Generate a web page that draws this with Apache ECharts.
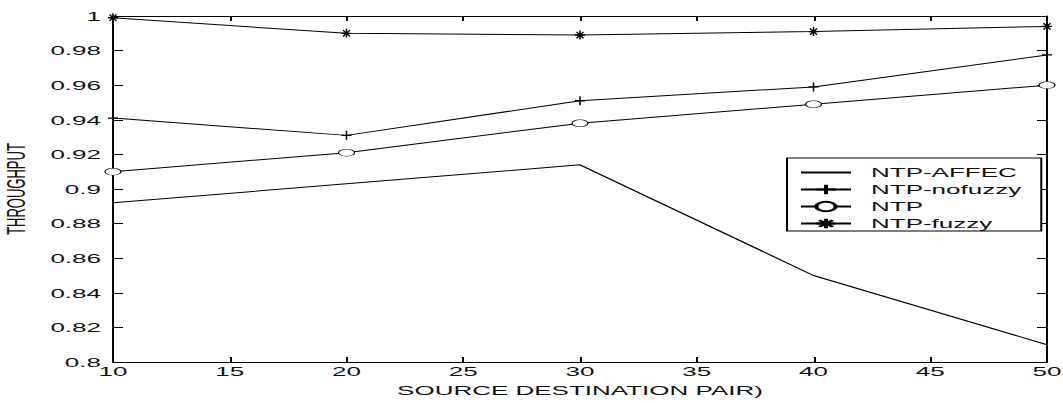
<!DOCTYPE html>
<html>
<head>
<meta charset="utf-8">
<script src="https://cdn.jsdelivr.net/npm/echarts@6/dist/echarts.min.js"></script>
<style>
html,body{margin:0;padding:0;background:#fff;overflow:hidden;}
#wrap{width:1063px;height:403px;overflow:hidden;}
#chart{width:531.5px;height:403px;transform:scale(2,1);transform-origin:0 0;}
</style>
</head>
<body>
<div id="wrap"><div id="chart"></div></div>
<script>
const pairs = [10, 20, 30, 40, 50];
const ntpAffec = [0.892, 0.903, 0.914, 0.850, 0.810];
const ntpNofuzzy = [0.941, 0.931, 0.951, 0.959, 0.9775];
const ntp = [0.910, 0.921, 0.938, 0.949, 0.960];
const ntpFuzzy = [0.999, 0.990, 0.989, 0.991, 0.994];
const seriesNames = ['NTP-AFFEC', 'NTP-nofuzzy', 'NTP', 'NTP-fuzzy'];

const zip = arr => pairs.map((x, i) => [x, arr[i]]);
const FONT = 'Liberation Sans, Arial, sans-serif';
const plusPath = 'path://M0,-1L0,1M-1,0L1,0';
const starPath = 'path://M0,-1L0,1M-1,0L1,0M-0.7,-0.7L0.7,0.7M-0.7,0.7L0.7,-0.7';
const ringPath = 'path://M-1,0A1,1 0 1,0 1,0A1,1 0 1,0 -1,0Z';

const chart = echarts.init(document.getElementById('chart'), null, {renderer: 'svg'});
const axisCommon = {
  axisLine: {lineStyle: {color: '#000', width: 1}},
  axisTick: {inside: true, length: 5, lineStyle: {color: '#000'}},
  splitLine: {show: false}
};
const lineStyle = {color: '#000', width: 1};
const legendData = seriesNames.map((n, i) => i === 0
  ? {name: n, itemStyle: {color: 'rgba(0,0,0,0)', borderColor: 'rgba(0,0,0,0)', opacity: 0}}
  : {name: n});
chart.setOption({
  animation: false,
  backgroundColor: '#fff',
  grid: {left: 56.5, right: 8.5, top: 16, bottom: 41, containLabel: false, outerBoundsMode: 'none'},
  legend: {
    orient: 'vertical',
    left: 393.5,
    top: 158,
    data: legendData,
    backgroundColor: '#fff',
    borderColor: '#000',
    borderWidth: 1,
    borderRadius: 0,
    padding: [8, 10, 1, 6],
    itemWidth: 25,
    itemHeight: 12,
    itemGap: 4,
    textStyle: {fontFamily: FONT, fontSize: 13, color: '#111', padding: [0, 0, 0, 5], lineHeight: 12}
  },
  xAxis: [
    Object.assign({}, axisCommon, {
      type: 'value', min: 10, max: 50, interval: 5, position: 'bottom',
      name: 'SOURCE DESTINATION PAIR)', nameLocation: 'middle', nameGap: 22,
      nameTextStyle: {fontFamily: FONT, fontSize: 13, color: '#111'},
      axisLabel: {fontFamily: FONT, fontSize: 13, color: '#111', margin: 3}
    }),
    Object.assign({}, axisCommon, {
      type: 'value', min: 10, max: 50, interval: 5, position: 'top',
      axisLabel: {show: false}
    })
  ],
  yAxis: [
    Object.assign({}, axisCommon, {
      type: 'value', min: 0.8, max: 1, interval: 0.02, position: 'left',
      name: 'THROUGHPUT', nameLocation: 'middle', nameGap: 31, nameRotate: 90,
      nameTextStyle: {fontFamily: FONT, fontSize: 13, color: '#111'},
      axisLabel: {fontFamily: FONT, fontSize: 13, color: '#111', margin: 6}
    }),
    Object.assign({}, axisCommon, {
      type: 'value', min: 0.8, max: 1, interval: 0.02, position: 'right',
      axisLabel: {show: false}
    })
  ],
  series: [
    {name: seriesNames[0], type: 'line', data: zip(ntpAffec), symbol: 'none',
     lineStyle: lineStyle, itemStyle: {color: '#000'}},
    {name: seriesNames[1], type: 'line', data: zip(ntpNofuzzy), symbol: plusPath, symbolSize: [5, 9],
     lineStyle: lineStyle, itemStyle: {color: '#000', borderColor: '#000', borderWidth: 1}},
    {name: seriesNames[2], type: 'line', data: zip(ntp), symbol: ringPath, symbolSize: [8, 7],
     lineStyle: lineStyle, itemStyle: {color: '#fff', borderColor: '#000', borderWidth: 0.6}},
    {name: seriesNames[3], type: 'line', data: zip(ntpFuzzy), symbol: starPath, symbolSize: [5, 9],
     lineStyle: lineStyle, itemStyle: {color: '#000', borderColor: '#000', borderWidth: 1}}
  ]
});
</script>
</body>
</html>
